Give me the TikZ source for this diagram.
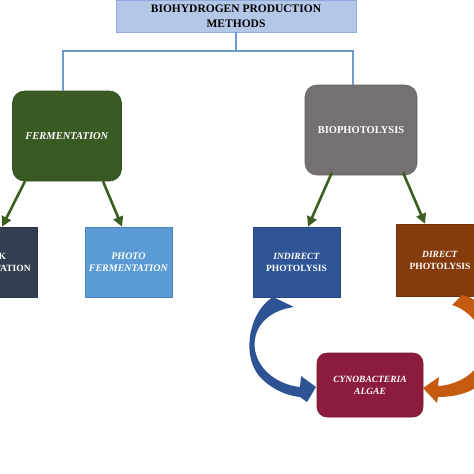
\documentclass[tikz,border=0pt]{standalone}
\usepackage{fontspec}
\setmainfont{Liberation Serif}
\usetikzlibrary{arrows.meta}

\definecolor{titlefill}{HTML}{B4C7E7}
\definecolor{titleline}{HTML}{8FAADC}
\definecolor{treeline}{HTML}{6C9BCB}
\definecolor{fermgreen}{HTML}{3A5A24}
\definecolor{biogray}{HTML}{767171}
\definecolor{darknavy}{HTML}{333F50}
\definecolor{photoblue}{HTML}{5B9BD5}
\definecolor{indirectblue}{HTML}{2F5597}
\definecolor{directbrown}{HTML}{843C0C}
\definecolor{cynored}{HTML}{8C1C3C}
\definecolor{arrowgreen}{HTML}{3B5E20}
\definecolor{curveblue}{HTML}{2E5394}
\definecolor{curveorange}{HTML}{C55A11}

\begin{document}
\begin{tikzpicture}[
x=1pt, y=-1pt,
box/.style={draw=#1!85!black, fill=#1, text=white, align=center, inner sep=1pt,
  line width=0.6pt, font=\bfseries\fontsize{9.5}{12}\selectfont},
bigbox/.style={box=#1, rounded corners=12pt, font=\bfseries\fontsize{10.5}{13}\selectfont},
tree/.style={draw=treeline, line width=1.4pt},
arrow/.style={-{Triangle[length=10pt,width=10pt]}, draw=arrowgreen, line width=2.6pt}
]
\useasboundingbox (0,0) rectangle (474,474);
\clip (0,0) rectangle (474,474);

% boxes
\node[draw=titleline, fill=titlefill, line width=0.8pt, align=center,
  minimum width=240pt, minimum height=32pt, inner sep=1pt,
  font=\bfseries\fontsize{11.5}{15}\selectfont] (top) at (236,16)
  {BIOHYDROGEN PRODUCTION\\METHODS};

\node[bigbox=fermgreen, minimum width=109pt, minimum height=90pt] (ferm) at (67,136)
  {\textit{FERMENTATION}};
\node[bigbox=biogray, minimum width=112pt, minimum height=90pt] (bio) at (361,130)
  {BIOPHOTOLYSIS};

\node[box=darknavy, minimum width=91pt, minimum height=70pt] (dark) at (-8,262)
  {DARK\\FERMENTATION};
\node[box=photoblue, minimum width=87pt, minimum height=70pt,
  font=\bfseries\fontsize{10}{12}\selectfont] (photo) at (128.5,262)
  {\textit{PHOTO}\\\textit{FERMENTATION}};
\node[box=indirectblue, minimum width=87pt, minimum height=70pt] (indirect) at (296.5,262)
  {\textit{INDIRECT}\\PHOTOLYSIS};
\node[box=directbrown, minimum width=88pt, minimum height=72pt] (direct) at (440,260)
  {\textit{DIRECT}\\PHOTOLYSIS};
\node[box=cynored, rounded corners=10pt, minimum width=106pt, minimum height=64pt] (cyno) at (370,385)
  {\textit{CYNOBACTERIA}\\\textit{ALGAE}};

% tree lines
\coordinate (split) at (236,51);
\draw[tree] (top.south) -- (split) -| ([xshift=-4pt]ferm.north);
\draw[tree] (split) -| ([xshift=-8pt]bio.north);

% green arrows
\draw[arrow] ([xshift=-42pt]ferm.south) -- ([xshift=10pt]dark.north);
\draw[arrow] ([xshift=36pt]ferm.south) -- ([xshift=-6.5pt]photo.north);
\draw[arrow] ([xshift=-29pt,yshift=3pt]bio.south) -- ([xshift=11.5pt]indirect.north);
\draw[arrow] ([xshift=42pt,yshift=3pt]bio.south) -- ([xshift=-15pt]direct.north);

% curved block arrows
\fill[curveblue] (273,297) .. controls (248,312) and (240,360) .. (263,380)
  .. controls (275,391) and (289,396) .. (300,397)
  -- (307,402) -- (316,387) -- (301,376) -- (300,387)
  .. controls (280,385) and (259,372) .. (255,350)
  .. controls (252,330) and (265,311) .. (294,307) -- cycle;
\fill[curveorange] (462,295) .. controls (490,300) and (505,340) .. (495,365)
  .. controls (485,390) and (460,397) .. (438,397)
  -- (437,403) -- (423,388) -- (439,377) -- (438,386)
  .. controls (460,385) and (482,370) .. (484,350)
  .. controls (486,330) and (470,310) .. (452,305) -- cycle;
\end{tikzpicture}
\end{document}
